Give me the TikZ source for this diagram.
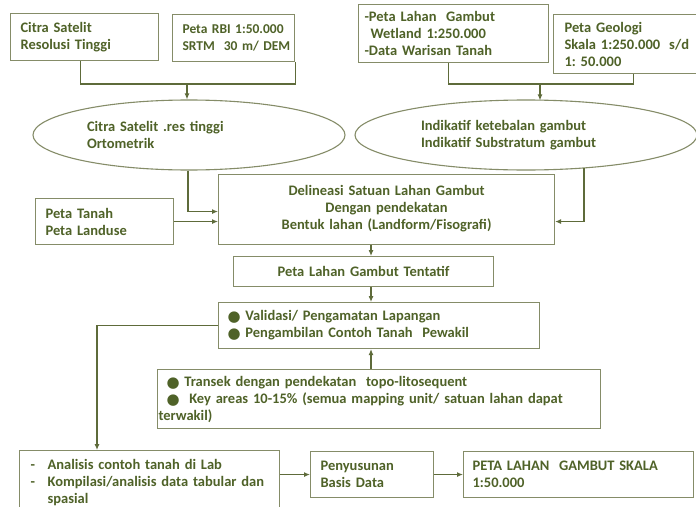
\documentclass[tikz,border=0pt]{standalone}
\usepackage{fontspec}
\setmainfont{Carlito}[WordSpace=0.8]
\newfontfamily\symfont{DejaVu Sans}
\usetikzlibrary{arrows.meta,shapes.geometric}
\definecolor{txtc}{HTML}{4F6228}
\definecolor{bordc}{HTML}{858C68}
\definecolor{arrc}{HTML}{5E6B3A}
\newcommand{\bul}{{\symfont\fontsize{15}{15}\selectfont\raisebox{-1pt}{●}}}
\begin{document}
\begin{tikzpicture}[x=1pt,y=-1pt,
  txt/.style={font=\bfseries\fontsize{14.5}{17}\selectfont, text=txtc},
  box/.style={txt, draw=bordc, line width=1.1pt, rectangle, anchor=north west, align=left, inner ysep=0pt},
  ell/.style={txt, draw=bordc, line width=1.1pt, ellipse, align=left, inner sep=0pt},
  ln/.style={draw=arrc, line width=1.1pt},
  arr/.style={ln, -{Latex[length=6pt,width=5pt]}}]
\useasboundingbox (0,0) rectangle (696,506);
\clip (0,0) rectangle (696,506);
\fill[white] (0,0) rectangle (696,506);

% top boxes
\node[box, minimum width=148pt, minimum height=47pt, inner xsep=10pt, text width=128pt] (b1) at (10,13) {Citra Satelit\\Resolusi Tinggi};
\node[box, minimum width=122pt, minimum height=47pt, inner xsep=10pt, text width=102pt, font=\bfseries\fontsize{13.5}{17}\selectfont] (b2) at (172,14) {\mbox{Peta RBI 1:50.000}\\\mbox{SRTM\ \ 30 m/ DEM}};
\node[box, minimum width=190pt, minimum height=58pt, inner xsep=6pt, text width=178pt] (b3) at (358,4) {-Peta Lahan\ \ Gambut\\\hspace*{6pt}Wetland 1:250.000\\-Data Warisan Tanah};
\node[box, minimum width=150pt, minimum height=59pt, inner xsep=11pt, text width=128pt] (b4) at (553,14) {\raisebox{-4pt}{Peta Geologi}\\\raisebox{-4pt}{\mbox{Skala 1:250.000\hspace{9pt}s/d}}\\\raisebox{-4pt}{1:\ 50.000}};

% ellipses
\node[ell, minimum width=312pt, minimum height=70pt, text width=204pt] (e1) at (189,135) {Citra Satelit .res tinggi\\Ortometrik};
\node[ell, minimum width=342pt, minimum height=70pt, text width=210pt] (e2) at (526,135) {Indikatif ketebalan gambut\\Indikatif Substratum gambut};

% middle
\node[box, minimum width=138pt, minimum height=46pt, inner xsep=10pt, text width=118pt] (t) at (35,198) {Peta Tanah\\Peta Landuse};
\node[box, minimum width=336pt, minimum height=70pt, inner xsep=10pt, text width=316pt, align=center] (d) at (218,174) {\raisebox{4pt}{Delineasi Satuan Lahan Gambut}\\\raisebox{4pt}{Dengan pendekatan}\\\raisebox{4pt}{Bentuk lahan (Landform/Fisografi)}};
\node[box, minimum width=260pt, minimum height=30pt, inner xsep=10pt, text width=240pt, align=center] (p) at (233,256) {Peta Lahan Gambut Tentatif};
\node[box, minimum width=321pt, minimum height=46pt, inner xsep=9pt, text width=303pt] (v) at (218,302) {\bul\ Validasi/ Pengamatan Lapangan\\\bul\ Pengambilan Contoh Tanah\ \ Pewakil};
\node[box, minimum width=443pt, minimum height=59pt, inner xsep=1pt, text width=441pt] (k) at (157,369) {\hspace*{8pt}\bul\ Transek dengan pendekatan\ \ topo-litosequent\\\hspace*{8pt}\bul\ \ Key areas 10-15\% (semua mapping unit/ satuan lahan dapat\\terwakil)};

% bottom
\node[box, minimum width=260pt, minimum height=64pt, inner xsep=11pt, text width=238pt] (a) at (19,450) {\makebox[17pt][l]{-}Analisis contoh tanah di Lab\\\makebox[17pt][l]{-}Kompilasi/analisis data tabular dan\\\hspace*{17pt}spasial};
\node[box, minimum width=123pt, minimum height=46pt, inner xsep=10pt, text width=103pt] (s) at (310,451) {Penyusunan\\Basis Data};
\node[box, minimum width=230pt, minimum height=46pt, inner xsep=9pt, text width=212pt] (f) at (463,451) {PETA LAHAN\ \ GAMBUT SKALA\\1:50.000};

% helper coordinates
\coordinate (j1) at (187,84);
\coordinate (j2) at (540,84);
\coordinate (cx) at (371,0);
\coordinate (cl) at (97,0);

% connectors
\draw[ln] ([xshift=-4pt]b1.south) -- ([xshift=-4pt]b1.south |- j1) -- (j1 -| b2.south east) -- (b2.south east);
\draw[arr] (j1) -- (j1 |- e1.north);
\draw[ln] ([xshift=-5pt]b3.south) -- ([xshift=-5pt]b3.south |- j2) -- ([xshift=5pt]j2 -| b4.south) -- ([xshift=5pt]b4.south);
\draw[arr] (j2) -- ([yshift=-1pt]j2 |- e2.north);
\draw[arr] ([xshift=-1pt]e1.south) |- ([yshift=-2pt]d.west);
\draw[arr] (t.east) -- (t.east -| d.west);
\draw[arr] (e2.-30) |- (d.east |- t.east);
\draw[arr] (d.south -| cx) -- (p.north -| cx);
\draw[arr] (p.south -| cx) -- (v.north -| cx);
\draw[arr] (k.north -| cx) -- (v.south -| cx);
\draw[arr] (v.west) -| (cl |- a.north);
\draw[arr] (s.west -| a.east) -- (s.west);
\draw[arr] (s.east) -- (f.west);
\end{tikzpicture}
\end{document}
